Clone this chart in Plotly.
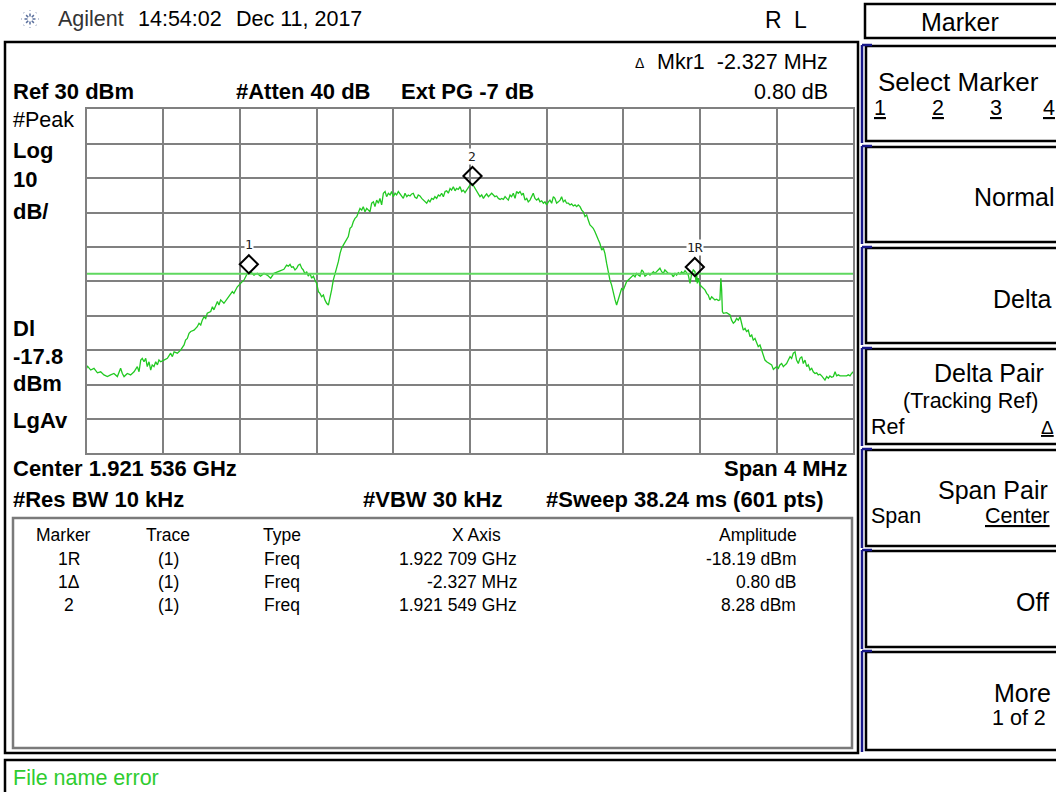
import math
import plotly.graph_objects as go

# ---------------- data ----------------
center_ghz = 1.921536
span_mhz = 4.0
ref_level_dbm = 30.0
db_per_div = 10.0
display_line_dbm = -17.8

# trace: (offset from centre in MHz, amplitude in dBm)
trace_left_skirt = [
    (-2.000, -45.3), (-1.997, -44.6), (-1.979, -45.8), (-1.962, -45.3), (-1.944, -46.6), (-1.927, -46.3),
    (-1.910, -47.2), (-1.892, -47.7), (-1.875, -47.2), (-1.858, -46.8), (-1.840, -47.7), (-1.831, -46.3),
    (-1.823, -45.3), (-1.814, -46.8), (-1.805, -47.7), (-1.788, -46.8), (-1.771, -47.2), (-1.753, -46.3),
    (-1.736, -44.8), (-1.727, -46.3), (-1.718, -42.9), (-1.710, -42.4), (-1.701, -43.4), (-1.692, -42.4),
    (-1.684, -44.8), (-1.675, -43.4), (-1.666, -45.8), (-1.658, -44.3), (-1.649, -44.8), (-1.640, -43.4),
    (-1.631, -44.3), (-1.623, -42.9), (-1.614, -43.4), (-1.597, -42.9), (-1.579, -42.4), (-1.562, -40.9),
    (-1.553, -41.9), (-1.544, -40.5), (-1.527, -40.9), (-1.510, -40.0), (-1.492, -38.5), (-1.484, -37.1),
    (-1.475, -36.6), (-1.466, -35.1), (-1.457, -34.6), (-1.440, -34.2), (-1.423, -33.2), (-1.414, -32.2),
    (-1.405, -32.7), (-1.397, -31.3), (-1.388, -30.3), (-1.379, -30.8), (-1.371, -29.3), (-1.353, -28.8),
    (-1.344, -27.4), (-1.336, -28.3), (-1.318, -25.9), (-1.310, -26.9), (-1.301, -25.4), (-1.284, -26.4),
    (-1.266, -25.0), (-1.249, -23.5), (-1.240, -23.0), (-1.232, -23.5), (-1.214, -21.6), (-1.197, -20.6),
    (-1.179, -19.6), (-1.162, -17.7), (-1.145, -17.2), (-1.127, -18.2), (-1.110, -17.7), (-1.093, -18.5),
    (-1.075, -17.7), (-1.058, -18.2), (-1.040, -19.1), (-1.023, -17.7), (-1.006, -17.2), (-0.988, -16.9),
    (-0.971, -16.5),
]
trace_main_left = [
    (-0.965, -15.8), (-0.957, -15.3), (-0.948, -15.6), (-0.939, -15.1), (-0.931, -15.9), (-0.922, -15.8),
    (-0.913, -16.7), (-0.904, -16.2), (-0.896, -15.3), (-0.887, -15.0), (-0.878, -16.2), (-0.870, -16.7),
    (-0.861, -17.9), (-0.852, -17.2), (-0.844, -18.5), (-0.835, -17.7), (-0.826, -19.1), (-0.817, -18.5),
    (-0.809, -19.6), (-0.800, -20.6), (-0.791, -23.0), (-0.783, -23.5), (-0.774, -24.5), (-0.765, -24.0),
    (-0.757, -25.4), (-0.748, -26.4), (-0.739, -26.9), (-0.730, -25.0), (-0.722, -22.5), (-0.713, -19.6),
    (-0.704, -17.7), (-0.696, -16.7), (-0.687, -14.3), (-0.678, -11.9), (-0.670, -10.4), (-0.661, -9.5),
    (-0.643, -8.0), (-0.635, -7.0), (-0.626, -4.6), (-0.617, -4.1), (-0.609, -2.7), (-0.600, -1.7),
    (-0.591, -1.2), (-0.583, 0.2), (-0.574, 1.2), (-0.565, 0.7), (-0.557, 1.7), (-0.548, 0.2),
    (-0.539, 1.2), (-0.530, 0.7), (-0.522, 0.2), (-0.513, 2.7), (-0.504, 3.1), (-0.496, 1.7),
    (-0.487, 3.6), (-0.478, 2.7), (-0.470, 4.1), (-0.461, 2.2), (-0.452, 5.6), (-0.443, 6.1),
    (-0.435, 4.6), (-0.426, 5.6), (-0.417, 5.1), (-0.409, 6.1), (-0.400, 4.6), (-0.391, 5.6),
    (-0.383, 5.1), (-0.374, 6.1), (-0.365, 5.4), (-0.357, 5.1), (-0.348, 4.1), (-0.339, 5.6),
    (-0.330, 4.6), (-0.322, 5.1), (-0.313, 4.8), (-0.304, 5.4), (-0.296, 5.6), (-0.287, 4.4),
    (-0.278, 4.1), (-0.270, 5.1), (-0.261, 4.8), (-0.252, 4.1), (-0.243, 3.6), (-0.235, 3.1),
    (-0.226, 2.7), (-0.217, 3.6), (-0.209, 3.1), (-0.200, 4.1), (-0.191, 3.8), (-0.183, 4.6),
    (-0.174, 4.1), (-0.165, 5.1), (-0.157, 4.8), (-0.148, 5.6), (-0.139, 4.6), (-0.130, 6.1),
    (-0.122, 6.3), (-0.113, 5.6), (-0.104, 7.0), (-0.096, 6.5), (-0.087, 7.5), (-0.078, 6.3),
    (-0.070, 7.0), (-0.061, 6.7), (-0.052, 7.5), (-0.043, 6.1), (-0.035, 6.5), (-0.026, 5.8),
    (-0.017, 6.5), (-0.009, 7.0), (0.000, 8.0), (0.013, 8.28), (0.026, 7.0), (0.035, 6.1),
    (0.043, 5.1),
]
trace_main_right = [
    (0.052, 4.6), (0.061, 5.1), (0.070, 4.1), (0.078, 4.8), (0.087, 5.4), (0.096, 4.6),
    (0.104, 5.1), (0.113, 5.6), (0.122, 5.1), (0.130, 4.6), (0.139, 4.8), (0.148, 4.1),
    (0.157, 3.8), (0.165, 4.1), (0.174, 3.8), (0.183, 4.6), (0.191, 4.1), (0.200, 3.6),
    (0.209, 5.1), (0.217, 4.6), (0.226, 5.6), (0.235, 4.1), (0.243, 6.1), (0.252, 5.6),
    (0.261, 6.1), (0.270, 5.1), (0.278, 5.6), (0.287, 3.6), (0.296, 4.1), (0.304, 3.1),
    (0.313, 3.6), (0.322, 4.6), (0.330, 5.6), (0.339, 4.1), (0.348, 3.6), (0.357, 4.1),
    (0.365, 3.1), (0.374, 3.4), (0.383, 2.7), (0.391, 3.1), (0.400, 2.2), (0.409, 3.1),
    (0.417, 3.6), (0.426, 2.7), (0.435, 4.6), (0.443, 4.1), (0.452, 2.7), (0.461, 3.1),
    (0.470, 3.6), (0.478, 4.6), (0.487, 3.1), (0.496, 3.6), (0.504, 2.7), (0.513, 2.7),
    (0.522, 2.2), (0.530, 2.5), (0.539, 1.9), (0.548, 2.2), (0.557, 1.7), (0.565, 2.2),
    (0.574, 1.7), (0.583, 0.7), (0.591, 0.2), (0.600, -1.2), (0.609, -0.7), (0.617, -2.2),
    (0.626, -3.6), (0.635, -4.1), (0.643, -4.6), (0.652, -5.6), (0.661, -7.0), (0.670, -8.0),
    (0.678, -9.0), (0.687, -10.9), (0.696, -10.4), (0.704, -11.9), (0.713, -14.8), (0.722, -17.7),
    (0.730, -19.6), (0.739, -21.1), (0.748, -23.5), (0.757, -25.4), (0.765, -26.9), (0.774, -25.0),
    (0.783, -23.5), (0.791, -22.1), (0.800, -22.5), (0.809, -21.1), (0.817, -20.1), (0.826, -19.6),
    (0.835, -19.1), (0.843, -18.7), (0.852, -18.2), (0.861, -18.7), (0.870, -17.7), (0.878, -18.2),
    (0.887, -18.5), (0.896, -16.7), (0.904, -17.2), (0.913, -18.5), (0.922, -17.9), (0.930, -17.7),
    (0.939, -18.2), (0.948, -17.7), (0.957, -17.2), (0.965, -17.7), (0.974, -17.2), (0.983, -16.7),
    (0.991, -16.2), (1.000, -17.2), (1.009, -17.7), (1.017, -16.7), (1.026, -17.2), (1.035, -17.7),
]
trace_right_skirt = [
    (1.044, -17.7), (1.052, -17.9), (1.061, -18.7), (1.070, -17.7), (1.078, -18.2), (1.087, -17.5),
    (1.096, -17.9), (1.104, -17.2), (1.113, -17.7), (1.122, -16.9), (1.130, -17.5), (1.139, -18.2),
    (1.148, -20.6), (1.157, -17.7), (1.165, -16.7), (1.174, -17.2), (1.179, -20.1), (1.183, -17.7),
    (1.186, -20.6), (1.191, -19.1), (1.200, -21.1), (1.209, -21.6), (1.217, -22.0), (1.226, -22.5),
    (1.235, -23.5), (1.243, -24.0), (1.252, -25.4), (1.261, -24.5), (1.270, -25.0), (1.278, -25.4),
    (1.287, -25.2), (1.296, -25.6), (1.304, -25.4), (1.309, -19.1), (1.313, -22.5), (1.317, -28.8),
    (1.322, -29.3), (1.339, -29.1), (1.357, -29.8), (1.365, -31.3), (1.374, -32.2), (1.383, -31.7),
    (1.391, -30.8), (1.400, -31.3), (1.409, -30.3), (1.417, -32.2), (1.426, -34.2), (1.435, -33.7),
    (1.443, -34.6), (1.452, -34.2), (1.461, -36.1), (1.470, -35.6), (1.478, -37.1), (1.487, -36.6),
    (1.496, -38.0), (1.504, -39.0), (1.513, -38.5), (1.522, -40.0), (1.530, -41.9), (1.539, -42.9),
    (1.548, -43.4), (1.565, -43.9), (1.574, -44.3), (1.583, -45.6), (1.591, -45.3), (1.600, -44.8),
    (1.609, -45.3), (1.617, -44.3), (1.626, -43.9), (1.635, -44.8), (1.644, -44.3), (1.652, -43.9),
    (1.661, -42.9), (1.670, -41.9), (1.678, -42.4), (1.687, -40.9), (1.696, -40.5), (1.704, -42.9),
    (1.713, -43.9), (1.722, -42.4), (1.731, -41.9), (1.739, -43.9), (1.748, -42.9), (1.757, -44.8),
    (1.765, -44.3), (1.774, -45.8), (1.783, -45.3), (1.791, -46.3), (1.800, -46.8), (1.809, -46.6),
    (1.817, -47.2), (1.826, -47.0), (1.835, -47.5), (1.844, -48.2), (1.852, -48.7), (1.861, -47.7),
    (1.870, -48.2), (1.878, -47.5), (1.887, -47.9), (1.896, -47.7), (1.905, -46.3), (1.913, -47.5),
    (1.922, -47.2), (1.931, -47.5), (1.948, -47.5), (1.965, -47.5), (1.974, -47.2), (1.983, -47.5),
    (1.991, -46.8), (2.000, -46.3),
]

# marker table
marker_ids = ["1R", "1\u0394", "2"]
marker_trace = ["(1)", "(1)", "(1)"]
marker_type = ["Freq", "Freq", "Freq"]
marker_xaxis_text = ["1.922 709 GHz", "-2.327 MHz", "1.921 549 GHz"]
marker_amp_text = ["-18.19 dBm", "0.80 dB", "8.28 dBm"]
mkr1r_freq_ghz = 1.922709
mkr1_delta_mhz = -2.327
mkr1_delta_db = 0.80
mkr1r_amp_dbm = -18.19
mkr2_freq_ghz = 1.921549
mkr2_amp_dbm = 8.28

# ---------------- geometry helpers (layout only) ----------------
W, H = 1056, 792
FONT = "Liberation Sans, Arial, sans-serif"


def px(x):
    return x / W


def py(y):
    return 1 - y / H


PLOT_L, PLOT_R, PLOT_T, PLOT_B = 86.7, 853.3, 109.3, 453.3
px_per_db = (PLOT_B - PLOT_T) / (db_per_div * 10)

points = trace_left_skirt + trace_main_left + trace_main_right + trace_right_skirt
trace_x = [p[0] for p in points]
trace_y = [p[1] for p in points]

mk_off_1r = (mkr1r_freq_ghz - center_ghz) * 1000
mk_off_1 = mk_off_1r + mkr1_delta_mhz
mk_off_2 = (mkr2_freq_ghz - center_ghz) * 1000
mk_x = [mk_off_1, mk_off_2, mk_off_1r]
mk_y = [mkr1r_amp_dbm + mkr1_delta_db, mkr2_amp_dbm, mkr1r_amp_dbm]
mk_labels = ["1", "2", "1R"]
diamond_lift_db = 8 / px_per_db

fig = go.Figure()
fig.add_trace(go.Scatter(x=trace_x, y=trace_y, mode="lines",
                         line=dict(color="#22c922", width=1.3), hoverinfo="skip"))
fig.add_trace(go.Scatter(x=[-span_mhz / 2, span_mhz / 2], y=[display_line_dbm] * 2, mode="lines",
                         line=dict(color="#5fd85f", width=2), hoverinfo="skip"))
fig.add_trace(go.Scatter(x=mk_x, y=[v + diamond_lift_db for v in mk_y], mode="markers",
                         marker=dict(symbol="diamond-open", size=14, color="black",
                                     line=dict(width=2, color="black")), hoverinfo="skip"))

annotations = []
shapes = []


def txt(x, y, s, size=21.5, bold=False, anchor="left", color="black", family=FONT):
    if bold:
        s = "<b>" + s + "</b>"
    annotations.append(dict(x=px(x), y=py(y), xref="paper", yref="paper", text=s,
                            showarrow=False, xanchor=anchor, yanchor="middle",
                            borderpad=0, font=dict(family=family, size=size, color=color)))


def rect(x0, y0, x1, y1, color="black", width=2):
    shapes.append(dict(type="rect", xref="paper", yref="paper", x0=px(x0), x1=px(x1),
                       y0=py(y0), y1=py(y1), line=dict(color=color, width=width)))


def line(x0, y0, x1, y1, color="black", width=2, dash="solid"):
    shapes.append(dict(type="line", xref="paper", yref="paper", x0=px(x0), x1=px(x1),
                       y0=py(y0), y1=py(y1), line=dict(color=color, width=width, dash=dash)))


# marker labels on the trace
for mx, my, lab in zip(mk_x, mk_y, mk_labels):
    annotations.append(dict(x=mx, y=my, xref="x", yref="y", text=lab, showarrow=False,
                            yshift=28, bgcolor="white", borderpad=0,
                            font=dict(family="DejaVu Sans Mono", size=13, color="#222")))

# ---- header line ----
for k in range(8):
    a = k * math.pi / 4
    line(30 + 2.5 * math.cos(a), 19 + 2.5 * math.sin(a), 30 + 9 * math.cos(a), 19 + 9 * math.sin(a),
         color="#5a6f9c", width=1.5, dash="dot")
txt(57, 19, "Agilent", color="#333")
txt(137, 19, "14:54:02")
txt(235, 19, "Dec 11, 2017")
txt(764, 20, "R", size=23)
txt(793, 20, "L", size=23)

# ---- main frame ----
rect(5, 42, 858, 753, width=2.5)
txt(634, 63, "\u0394", size=14)
txt(829, 62, "Mkr1 \u00a0-2.327 MHz", anchor="right")
txt(12, 92, "Ref 30 dBm", size=22, bold=True)
txt(235, 92, "#Atten 40 dB", size=22, bold=True)
txt(400, 92, "Ext PG -7 dB", size=22, bold=True)
txt(829, 92, "0.80 dB", anchor="right")
txt(12, 120, "#Peak")
txt(12, 150, "Log", size=22, bold=True)
txt(12, 179, "10", size=22, bold=True)
txt(12, 211, "dB/", size=22, bold=True)
txt(12, 328, "Dl", size=22, bold=True)
txt(12, 356, "-17.8", size=22, bold=True)
txt(12, 383, "dBm", size=22, bold=True)
txt(12, 420, "LgAv", size=22, bold=True)
txt(12, 469, "Center 1.921 536 GHz", size=22, bold=True)
txt(848, 469, "Span 4 MHz", size=22, bold=True, anchor="right")
txt(12, 500, "#Res BW 10 kHz", size=22, bold=True)
txt(362, 500, "#VBW 30 kHz", size=22, bold=True)
txt(545, 500, "#Sweep 38.24 ms (601 pts)", size=22, bold=True)

# ---- marker table ----
rect(13, 518, 852, 748, color="#7a7a7a", width=2.5)
TS = 17.5
txt(63, 535, "Marker", size=TS, anchor="center")
txt(168, 535, "Trace", size=TS, anchor="center")
txt(282, 535, "Type", size=TS, anchor="center")
txt(476, 535, "X Axis", size=TS, anchor="center")
txt(758, 535, "Amplitude", size=TS, anchor="center")
row_y = [559, 582, 605]
for i in range(3):
    txt(69, row_y[i], marker_ids[i], size=TS, anchor="center")
    txt(168, row_y[i], marker_trace[i], size=TS, anchor="center")
    txt(282, row_y[i], marker_type[i], size=TS, anchor="center")
    txt(518, row_y[i], marker_xaxis_text[i], size=TS, anchor="right")
    txt(797, row_y[i], marker_amp_text[i], size=TS, anchor="right")

# ---- status bar ----
rect(5, 760, 1060, 796, width=2.5)
txt(12, 778, "File name error", color="#2fcc2f")

# ---- softkey panel ----
rect(865, 4, 1060, 38, width=2.5)
txt(960, 22, "Marker", size=25, anchor="center")
boxes = [(46, 141), (147, 242), (248, 343), (349, 444), (450, 546), (551, 647), (652, 750)]
for (t, b) in boxes:
    rect(866, t, 1060, b, width=2.5)
    line(862, t - 1, 862, b + 2, color="#18188a", width=2.5)
    line(862, t - 1, 872, t - 1, color="#18188a", width=2.5)
txt(877, 82, "Select Marker", size=26)
for xx, s in zip([873, 931, 989, 1042], ["1", "2", "3", "4"]):
    txt(xx, 108, "<u>" + s + "</u>")
txt(973, 197, "Normal", size=25)
txt(992, 299, "Delta", size=25)
txt(933, 373, "Delta Pair", size=25)
txt(902, 401, "(Tracking Ref)")
txt(870, 427, "Ref")
txt(1040, 427, "<u>\u0394</u>", size=19)
txt(937, 490, "Span Pair", size=25)
txt(870, 516, "Span")
txt(984, 516, "<u>Center</u>")
txt(1015, 602, "Off", size=25)
txt(993, 693, "More", size=25)
txt(991, 718, "1 of 2")

axis_common = dict(showgrid=True, gridcolor="#808080", gridwidth=1.6, zeroline=False,
                   showticklabels=False, ticks="", showline=True, linecolor="#808080",
                   linewidth=2, mirror=True, fixedrange=True)
fig.update_layout(
    width=W, height=H, margin=dict(l=0, r=0, t=0, b=0),
    paper_bgcolor="white", plot_bgcolor="white", showlegend=False,
    xaxis=dict(range=[-span_mhz / 2, span_mhz / 2], dtick=span_mhz / 10, tick0=-span_mhz / 2,
               domain=[px(PLOT_L), px(PLOT_R)], **axis_common),
    yaxis=dict(range=[ref_level_dbm - 10 * db_per_div, ref_level_dbm], dtick=db_per_div,
               domain=[py(PLOT_B), py(PLOT_T)], **axis_common),
    annotations=annotations, shapes=shapes,
)

fig.write_html("out.html", config={"displayModeBar": False},
               post_script="document.body.style.margin='0';document.body.style.overflow='hidden';")
